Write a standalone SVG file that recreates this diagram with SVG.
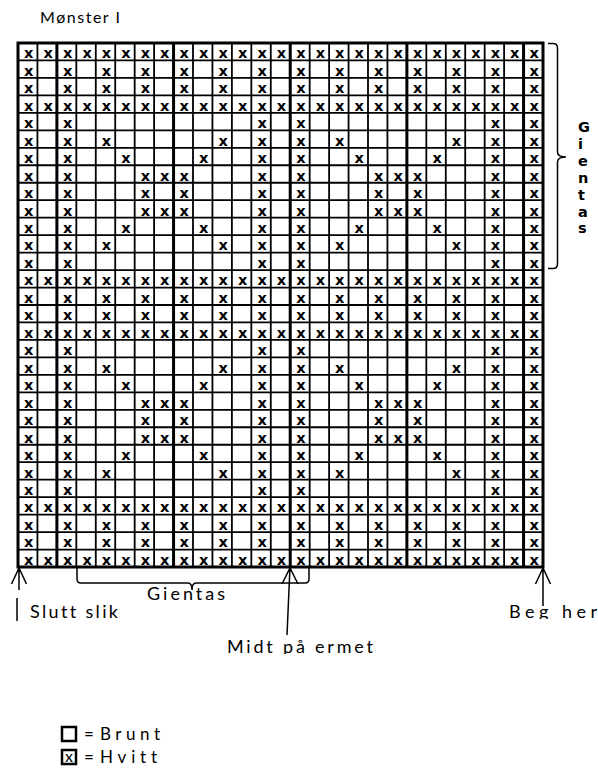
<svg xmlns="http://www.w3.org/2000/svg" width="598" height="780" viewBox="0 0 598 780">
<style>
.bg{fill:#fff}
.thin{stroke:#000;stroke-width:1.8;fill:none}
.thick{stroke:#000;stroke-width:3;fill:none}
.m{font-family:"DejaVu Sans",Verdana,sans-serif;font-weight:bold;font-size:14.5px;text-anchor:middle;fill:#000}
.lbl{font-family:Lato,"Open Sans",sans-serif;font-size:18px;fill:#000;font-variant-ligatures:none;font-feature-settings:"liga" 0}
.vt{font-family:"DejaVu Sans",Verdana,sans-serif;font-weight:bold;font-size:14.5px;fill:#000}
.ln{stroke:#000;stroke-width:1.5;fill:none}
</style>
<defs>
<clipPath id="cMidt"><rect x="200" y="630" width="200" height="24"/></clipPath>
<clipPath id="cBeg"><rect x="500" y="595" width="98" height="24"/></clipPath>
<clipPath id="cGien"><rect x="140" y="583" width="100" height="18"/></clipPath>
</defs>
<rect class="bg" x="0" y="0" width="598" height="780"/>
<g id="title"><text class="lbl" style="font-size:16px" x="40" y="23" textLength="80" lengthAdjust="spacing">Mønster I</text></g>
<g id="grid">
<path class="thin" d="M37.44 43V567M76.33 43V567M95.78 43V567M115.22 43V567M134.67 43V567M154.11 43V567M193 43V567M212.44 43V567M231.89 43V567M251.33 43V567M270.78 43V567M309.67 43V567M329.11 43V567M348.56 43V567M368 43V567M387.44 43V567M426.33 43V567M445.78 43V567M465.22 43V567M484.67 43V567M504.11 43V567"/>
<path class="thin" d="M18 60.47H543M18 77.93H543M18 95.4H543M18 112.87H543M18 130.33H543M18 147.8H543M18 165.27H543M18 182.73H543M18 200.2H543M18 217.67H543M18 235.13H543M18 252.6H543M18 270.07H543M18 287.53H543M18 305H543M18 322.47H543M18 339.93H543M18 357.4H543M18 374.87H543M18 392.33H543M18 409.8H543M18 427.27H543M18 444.73H543M18 462.2H543M18 479.67H543M18 497.13H543M18 514.6H543M18 532.07H543M18 549.53H543"/>
<path class="thick" d="M56.89 43V567M173.56 43V567M290.22 43V567M406.89 43V567M523.56 43V567"/>
<rect class="thick" x="18" y="43" width="525" height="524"/>
</g>
<g id="marks">
<text class="m" x="28.7 48.2 67.6 87.1 106.5 125.9 145.4 164.8 184.3 203.7 223.2 242.6 262.1 281.5 300.9 320.4 339.8 359.3 378.7 398.2 417.6 437.1 456.5 475.9 495.4 514.8 534.3" y="58.3">xxxxxxxxxxxxxxxxxxxxxxxxxxx</text>
<text class="m" x="28.7 67.6 106.5 145.4 184.3 223.2 262.1 300.9 339.8 378.7 417.6 456.5 495.4 534.3" y="75.77">xxxxxxxxxxxxxx</text>
<text class="m" x="28.7 67.6 106.5 145.4 184.3 223.2 262.1 300.9 339.8 378.7 417.6 456.5 495.4 534.3" y="93.23">xxxxxxxxxxxxxx</text>
<text class="m" x="28.7 48.2 67.6 87.1 106.5 125.9 145.4 164.8 184.3 203.7 223.2 242.6 262.1 281.5 300.9 320.4 339.8 359.3 378.7 398.2 417.6 437.1 456.5 475.9 495.4 514.8 534.3" y="110.7">xxxxxxxxxxxxxxxxxxxxxxxxxxx</text>
<text class="m" x="28.7 67.6 262.1 300.9 495.4 534.3" y="128.17">xxxxxx</text>
<text class="m" x="28.7 67.6 106.5 223.2 262.1 300.9 339.8 456.5 495.4 534.3" y="145.63">xxxxxxxxxx</text>
<text class="m" x="28.7 67.6 125.9 203.7 262.1 300.9 359.3 437.1 495.4 534.3" y="163.1">xxxxxxxxxx</text>
<text class="m" x="28.7 67.6 145.4 164.8 184.3 262.1 300.9 378.7 398.2 417.6 495.4 534.3" y="180.57">xxxxxxxxxxxx</text>
<text class="m" x="28.7 67.6 145.4 184.3 262.1 300.9 378.7 417.6 495.4 534.3" y="198.03">xxxxxxxxxx</text>
<text class="m" x="28.7 67.6 145.4 164.8 184.3 262.1 300.9 378.7 398.2 417.6 495.4 534.3" y="215.5">xxxxxxxxxxxx</text>
<text class="m" x="28.7 67.6 125.9 203.7 262.1 300.9 359.3 437.1 495.4 534.3" y="232.97">xxxxxxxxxx</text>
<text class="m" x="28.7 67.6 106.5 223.2 262.1 300.9 339.8 456.5 495.4 534.3" y="250.43">xxxxxxxxxx</text>
<text class="m" x="28.7 67.6 262.1 300.9 495.4 534.3" y="267.9">xxxxxx</text>
<text class="m" x="28.7 48.2 67.6 87.1 106.5 125.9 145.4 164.8 184.3 203.7 223.2 242.6 262.1 281.5 300.9 320.4 339.8 359.3 378.7 398.2 417.6 437.1 456.5 475.9 495.4 514.8 534.3" y="285.37">xxxxxxxxxxxxxxxxxxxxxxxxxxx</text>
<text class="m" x="28.7 67.6 106.5 145.4 184.3 223.2 262.1 300.9 339.8 378.7 417.6 456.5 495.4 534.3" y="302.83">xxxxxxxxxxxxxx</text>
<text class="m" x="28.7 67.6 106.5 145.4 184.3 223.2 262.1 300.9 339.8 378.7 417.6 456.5 495.4 534.3" y="320.3">xxxxxxxxxxxxxx</text>
<text class="m" x="28.7 48.2 67.6 87.1 106.5 125.9 145.4 164.8 184.3 203.7 223.2 242.6 262.1 281.5 300.9 320.4 339.8 359.3 378.7 398.2 417.6 437.1 456.5 475.9 495.4 514.8 534.3" y="337.77">xxxxxxxxxxxxxxxxxxxxxxxxxxx</text>
<text class="m" x="28.7 67.6 262.1 300.9 495.4 534.3" y="355.23">xxxxxx</text>
<text class="m" x="28.7 67.6 106.5 223.2 262.1 300.9 339.8 456.5 495.4 534.3" y="372.7">xxxxxxxxxx</text>
<text class="m" x="28.7 67.6 125.9 203.7 262.1 300.9 359.3 437.1 495.4 534.3" y="390.17">xxxxxxxxxx</text>
<text class="m" x="28.7 67.6 145.4 164.8 184.3 262.1 300.9 378.7 398.2 417.6 495.4 534.3" y="407.63">xxxxxxxxxxxx</text>
<text class="m" x="28.7 67.6 145.4 184.3 262.1 300.9 378.7 417.6 495.4 534.3" y="425.1">xxxxxxxxxx</text>
<text class="m" x="28.7 67.6 145.4 164.8 184.3 262.1 300.9 378.7 398.2 417.6 495.4 534.3" y="442.57">xxxxxxxxxxxx</text>
<text class="m" x="28.7 67.6 125.9 203.7 262.1 300.9 359.3 437.1 495.4 534.3" y="460.03">xxxxxxxxxx</text>
<text class="m" x="28.7 67.6 106.5 223.2 262.1 300.9 339.8 456.5 495.4 534.3" y="477.5">xxxxxxxxxx</text>
<text class="m" x="28.7 67.6 262.1 300.9 495.4 534.3" y="494.97">xxxxxx</text>
<text class="m" x="28.7 48.2 67.6 87.1 106.5 125.9 145.4 164.8 184.3 203.7 223.2 242.6 262.1 281.5 300.9 320.4 339.8 359.3 378.7 398.2 417.6 437.1 456.5 475.9 495.4 514.8 534.3" y="512.43">xxxxxxxxxxxxxxxxxxxxxxxxxxx</text>
<text class="m" x="28.7 67.6 106.5 145.4 184.3 223.2 262.1 300.9 339.8 378.7 417.6 456.5 495.4 534.3" y="529.9">xxxxxxxxxxxxxx</text>
<text class="m" x="28.7 67.6 106.5 145.4 184.3 223.2 262.1 300.9 339.8 378.7 417.6 456.5 495.4 534.3" y="547.37">xxxxxxxxxxxxxx</text>
<text class="m" x="28.7 48.2 67.6 87.1 106.5 125.9 145.4 164.8 184.3 203.7 223.2 242.6 262.1 281.5 300.9 320.4 339.8 359.3 378.7 398.2 417.6 437.1 456.5 475.9 495.4 514.8 534.3" y="564.83">xxxxxxxxxxxxxxxxxxxxxxxxxxx</text>
</g>
<g id="connectors">
<path class="ln" d="M548 43.5H553Q557.5 43.5 557.5 48V152Q557.5 157 566 157Q557.5 157 557.5 162V264Q557.5 268.5 553 268.5H548"/>
<path class="ln" d="M77 567V579Q77 583 81 583H188Q192 583 192 590Q192 583 196 583H305Q309 583 309 579V567"/>
<path class="ln" d="M19 568V590M11.5 584L19 568L26.5 584M17 598V621"/>
<path class="ln" d="M290 567L287 635M282 584L290 568L298 584"/>
<path class="ln" d="M543 568V606M535.5 584L543 568L550.5 584"/>
</g>
<g id="side-label">
<text class="vt" x="578" y="132">G</text>
<text class="vt" x="578" y="148.9">i</text>
<text class="vt" x="578" y="165.8">e</text>
<text class="vt" x="578" y="182.7">n</text>
<text class="vt" x="578" y="199.6">t</text>
<text class="vt" x="578" y="216.5">a</text>
<text class="vt" x="578" y="233.4">s</text>
</g>
<g id="labels">
<text class="lbl" x="30" y="618" textLength="88" lengthAdjust="spacing">Slutt slik</text>
<text class="lbl" x="147" y="600" textLength="78" lengthAdjust="spacing" clip-path="url(#cGien)">Gientas</text>
<text class="lbl" x="227" y="653" textLength="146" lengthAdjust="spacing" clip-path="url(#cMidt)">Midt på ermet</text>
<text class="lbl" x="509" y="618" textLength="88" lengthAdjust="spacing" clip-path="url(#cBeg)">Beg her</text>
</g>
<g id="legend">
<rect x="62" y="727" width="14" height="14" fill="none" stroke="#000" stroke-width="2.5"/>
<text class="lbl" style="font-size:17px" x="84" y="740">=</text>
<text class="lbl" style="font-size:17px" x="100" y="740" textLength="60" lengthAdjust="spacing">Brunt</text>
<rect x="62" y="750" width="14" height="14" fill="none" stroke="#000" stroke-width="2.5"/>
<text class="lbl" style="font-size:16px" x="69" y="762" text-anchor="middle">x</text>
<text class="lbl" style="font-size:17px" x="84" y="763">=</text>
<text class="lbl" style="font-size:17px" x="100" y="763" textLength="57" lengthAdjust="spacing">Hvitt</text>
</g>
</svg>
